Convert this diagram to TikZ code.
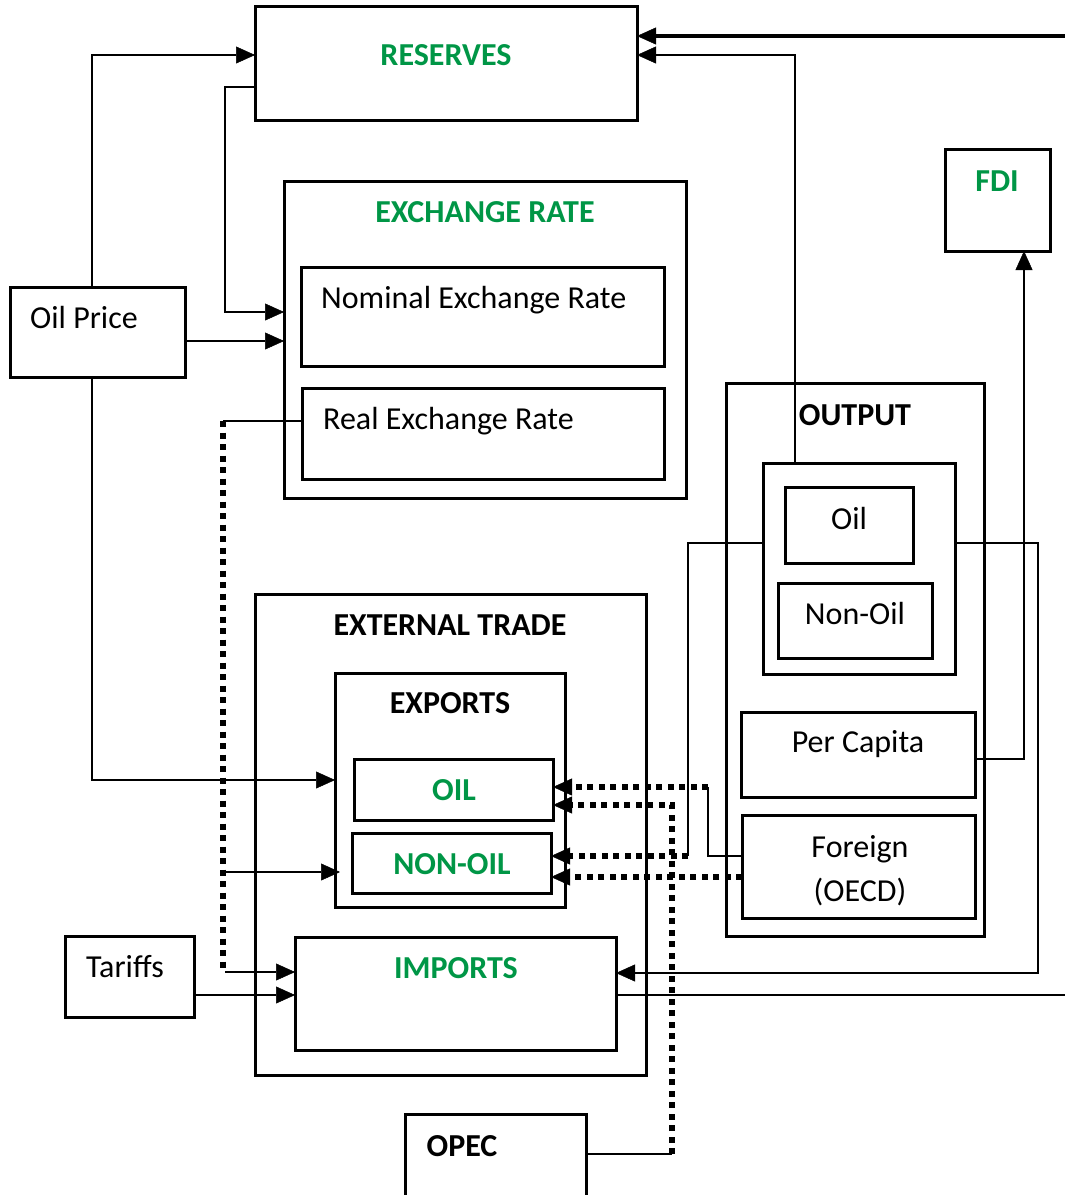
\documentclass[tikz,border=0pt]{standalone}
\usepackage{fontspec}
\setmainfont{Carlito}
\usetikzlibrary{arrows.meta}
\definecolor{hdgreen}{RGB}{0,150,70}
\begin{document}
\begin{tikzpicture}[x=1pt,y=-1pt,
  box/.style={draw, line width=3pt, inner sep=0pt, outer sep=0pt},
  lbl/.style={anchor=base, inner sep=0pt, font=\fontsize{32}{38}\selectfont},
  lbll/.style={lbl, anchor=base west},
  glbl/.style={lbl, font=\fontsize{32}{38}\selectfont\bfseries, text=hdgreen},
  blbl/.style={lbl, font=\fontsize{32}{38}\selectfont\bfseries},
  conn/.style={line width=2.8pt},
  tip/.style={-{Triangle[length=19pt,width=17pt,line width=0.5pt]}},
  arr/.style={conn, tip},
  dotline/.style={line width=6pt, dash pattern=on 6pt off 5.5pt},
  dotarr/.style={dotline, tip},
]
\path[use as bounding box, clip] (0,0) rectangle (1065,1195);

% boxes
\node[box, minimum width=382pt, minimum height=114pt] (reserves) at (446,63) {};
\node[box, minimum width=402pt, minimum height=317pt] (exch) at (485,339.5) {};
\node[box, minimum width=363pt, minimum height=99pt] (nominal) at (482.5,316.5) {};
\node[box, minimum width=362pt, minimum height=91pt] (real) at (483,433.5) {};
\node[box, minimum width=175pt, minimum height=90pt] (oilprice) at (97.5,332) {};
\node[box, minimum width=105pt, minimum height=102pt] (fdi) at (997.5,200) {};
\node[box, minimum width=258pt, minimum height=553pt] (output) at (855,659.5) {};
\node[box, minimum width=192pt, minimum height=211pt] (oilgrp) at (859,568.5) {};
\node[box, minimum width=128pt, minimum height=76pt] (oilo) at (849,525) {};
\node[box, minimum width=154pt, minimum height=75pt] (nonoilo) at (855,620.5) {};
\node[box, minimum width=234pt, minimum height=85pt] (percap) at (858,754.5) {};
\node[box, minimum width=233pt, minimum height=103pt] (foreign) at (858.5,866.5) {};
\node[box, minimum width=391pt, minimum height=481pt] (trade) at (450.5,834.5) {};
\node[box, minimum width=230pt, minimum height=234pt] (exports) at (450,790) {};
\node[box, minimum width=199pt, minimum height=61pt] (oilx) at (453.5,789.5) {};
\node[box, minimum width=199pt, minimum height=60pt] (nonoilx) at (451.5,863) {};
\node[box, minimum width=321pt, minimum height=113pt] (imports) at (455.5,993.5) {};
\node[box, minimum width=129pt, minimum height=81pt] (tariffs) at (129.5,976.5) {};
\node[box, minimum width=181pt, minimum height=116pt] (opec) at (495.5,1172) {};

% labels
\node[glbl] (tReserves) at (446,65) {RESERVES};
\node[glbl] (tExch) at (485,222) {EXCHANGE RATE};
\node[lbll] (tNominal) at (321,308) {Nominal Exchange Rate};
\node[lbll] (tReal) at (323,429) {Real Exchange Rate};
\node[lbll] (tOilPrice) at (30,328) {Oil Price};
\node[glbl] (tFdi) at (997,191) {FDI};
\node[blbl] (tOutput) at (855,425) {OUTPUT};
\node[lbl] (tOilO) at (849,529) {Oil};
\node[lbl] (tNonOilO) at (855,624) {Non-Oil};
\node[lbl] (tPerCap) at (858,752) {Per Capita};
\node[lbl] (tForeign) at (860,857) {Foreign};
\node[lbl] (tOecd) at (860,901) {(OECD)};
\node[blbl] (tTrade) at (450,635) {EXTERNAL TRADE};
\node[blbl] (tExports) at (450,713) {EXPORTS};
\node[glbl] (tOilX) at (454,800) {OIL};
\node[glbl] (tNonOilX) at (452,874) {NON-OIL};
\node[glbl] (tImports) at (456,978) {IMPORTS};
\node[lbl] (tTariffs) at (125,977) {Tariffs};
\node[blbl] (tOpec) at (462,1156) {OPEC};

% free ends at the picture's edge
\coordinate (edgeTop) at (1065,36);
\coordinate (edgeBot) at (1065,995);
\coordinate (jDot) at (225,872);

% connectors
\draw[arr] (oilprice.north -| 92,0) |- (reserves.west |- 0,55);
\draw[arr] ([xshift=2pt]reserves.west |- 0,87) -| (225,312) -- (exch.west |- 0,312);
\draw[arr] (oilprice.east |- 0,341) -- (exch.west |- 0,341);
\draw[arr] (oilprice.south -| 92,0) |- (exports.west |- 0,780);
\draw[arr] (jDot) -- ([xshift=5pt]exports.west |- 0,872);
\draw[line width=2.3pt] (real.west |- 0,421) -- (223,421);
\draw[dotline] (223,421) -- (223,968);
\draw[arr] (225,972) -- (imports.west |- 0,972);
\draw[arr] (tariffs.east |- 0,995) -- (imports.west |- 0,995);
\draw[line width=3.6pt, tip] (edgeTop) -- (reserves.east |- 0,36);
\draw[arr] (oilgrp.north -| 795,0) |- (reserves.east |- 0,55);
\draw[arr] (percap.east |- 0,759) -| (fdi.south -| 1024,0);
\draw[conn] (oilgrp.west |- 0,543) -| (688,856);
\draw[dotarr] (688,856) -- (nonoilx.east |- 0,856);
\draw[arr] (oilgrp.east |- 0,543) -| (1038,973) -- (imports.east |- 0,973);
\draw[conn] (imports.east |- 0,995) -- (edgeBot);
\draw[conn] (foreign.west |- 0,856) -| (708,787);
\draw[dotarr] (708,787) -- (oilx.east |- 0,787);
\draw[line width=2.3pt] (opec.east |- 0,1154) -- (672,1154);
\draw[dotarr] (672,1154) |- (oilx.east |- 0,805);
\draw[dotarr] (foreign.west |- 0,877) -- (nonoilx.east |- 0,877);
\end{tikzpicture}
\end{document}
